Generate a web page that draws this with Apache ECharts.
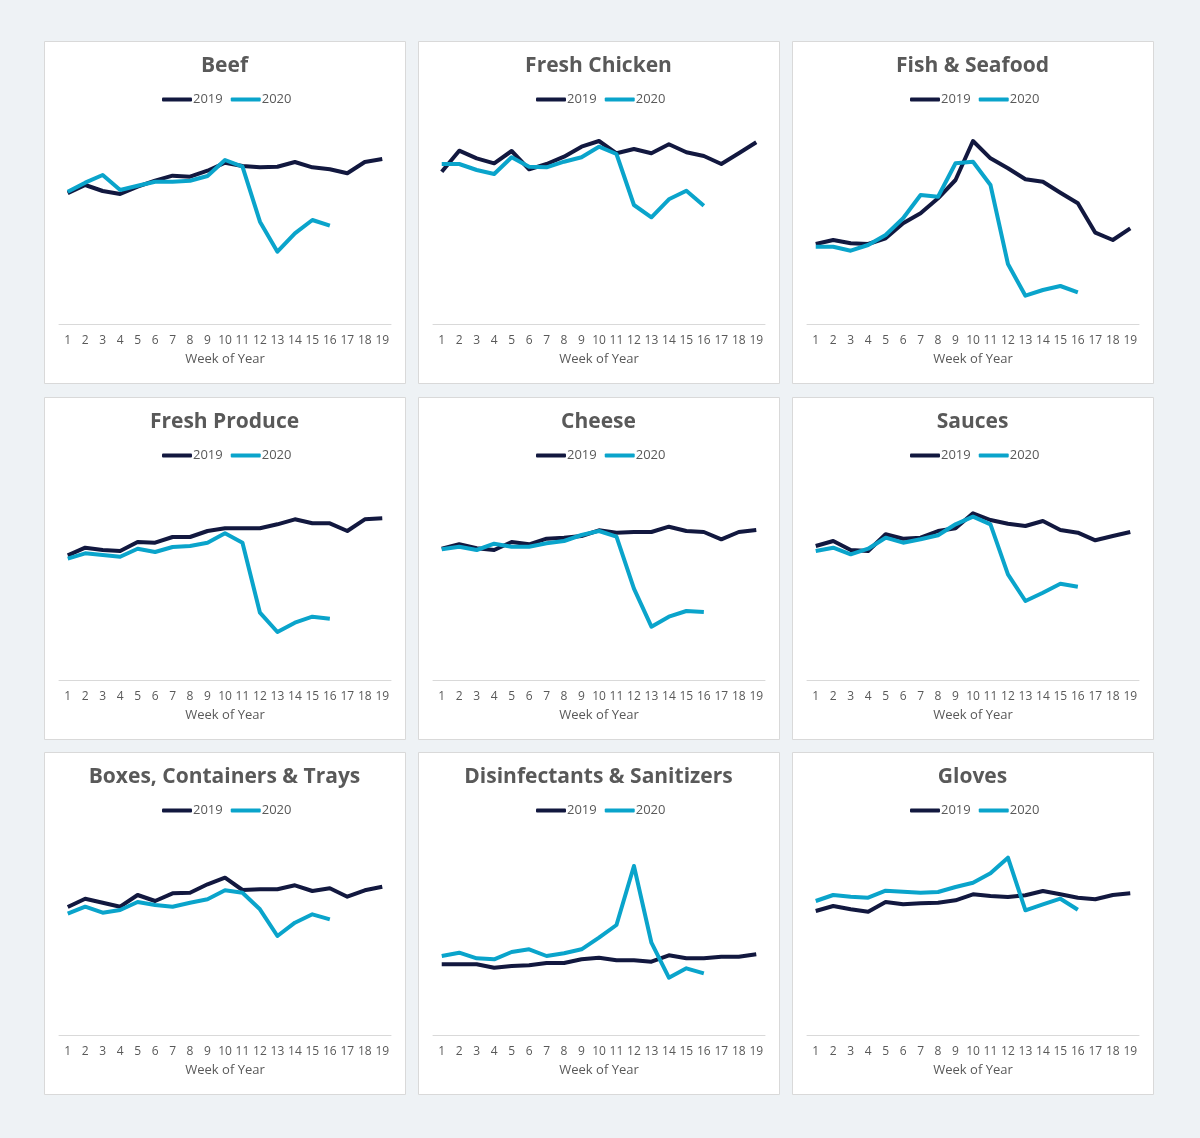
<!DOCTYPE html>
<html>
<head>
<meta charset="utf-8">
<script src="https://cdn.jsdelivr.net/npm/echarts@6/dist/echarts.min.js"></script>
<style>
html,body{margin:0;padding:0;background:#eef2f5;}
#chart{width:1200px;height:1138px;}
</style>
</head>
<body>
<div id="chart"></div>
<script>
// Week labels (x axis)
const weeks = ['1','2','3','4','5','6','7','8','9','10','11','12','13','14','15','16','17','18','19'];
const seriesNames = ['2019','2020'];

// Panel titles
const titles = ['Beef','Fresh Chicken','Fish & Seafood','Fresh Produce','Cheese','Sauces','Boxes, Containers & Trays','Disinfectants & Sanitizers','Gloves'];

// Values (relative units; no y scale is shown)
const beef2019 = [130.7,139,133,130,137.3,143.3,148.3,147.3,153.3,161.3,158,156.7,157.3,162,156.7,154.7,150.7,162,165];
const beef2020 = [132.3,141.3,149,134,138.3,142.3,142.3,143.3,148,164,157.3,102.3,72.3,90.7,104,98.3];

const chicken2019 = [152.3,173.3,165.7,160.7,173,154.7,160,167.3,177.3,183,170.7,175,170.7,179.7,171.7,168,160,170.7,181.7];
const chicken2020 = [160,160,154,150,166.7,157.3,156.7,162.3,166.7,177.3,170,119,106.7,124.7,133.3,118.3];

const fish2019 = [80,84,80.7,80,85.7,100.7,110.7,125.7,144,183,165.7,155.7,144.7,142.3,131.3,120.7,91.3,84,95.7];
const fish2020 = [77.3,77.3,73.3,79,89,105.7,129,127.3,160.7,162.3,139,60,28.3,34,38,31.7];

const produce2019 = [124.7,132.3,130,129,138,137.3,143,143,149,151.7,151.7,151.7,155.7,160.7,156.7,156.7,149,160.7,161.7];
const produce2020 = [121.3,126.7,125,123.3,131.3,128,133,134,137.3,146.7,137.3,67.3,48,57.3,63.3,61.3];

const cheese2019 = [131.3,135.7,131.7,130,138,135.7,141.3,142.3,144,149.7,147.3,148,148,153.3,149,148,140.7,148,150];
const cheese2020 = [130.7,133.3,130,136.3,133.3,133.3,136.7,139,145,149,143.3,91.3,53.3,63.3,69,68];

const sauces2019 = [134,139,130,129,145.7,141.3,142.3,149,151.7,166.7,160,156.3,154,159,150,147.3,139.7,144,148];
const sauces2020 = [129,132.3,125.7,131.3,142.3,137.3,140.7,144.7,155.7,163.3,155.7,105.7,79,87.3,96.3,93.3];

const boxes2019 = [128,136.3,132.3,128.3,140,134,141.7,142.3,150.7,157.3,145,145.7,145.7,149.7,144,146.7,138.3,144.7,148.3];
const boxes2020 = [121.3,128.3,122.3,125,133,130,128.3,132.3,135.7,144.7,142.3,125.7,99,112.3,120.7,115.7];

const disinf2019 = [70.7,70.7,70.7,67.3,69,69.7,72,72,75.7,77.3,74.7,74.7,73.3,79.7,76.7,76.7,78.3,78.3,80.7];
const disinf2020 = [79,82.3,76.7,75.7,83,85.7,79,81.7,85.7,97.3,110,169,92.3,57.3,66.7,61.7];

const gloves2019 = [124,129,125.7,123.3,133,130.7,131.7,132.3,134.7,140.7,139,138,139.7,144,140.7,137.3,135.7,140,141.7];
const gloves2020 = [134,140,138.3,137.3,144.3,143.3,142.3,143,148,152.3,161.7,177.3,124.7,130.7,136.3,125.3];

const data2019 = [beef2019,chicken2019,fish2019,produce2019,cheese2019,sauces2019,boxes2019,disinf2019,gloves2019];
const data2020 = [beef2020,chicken2020,fish2020,produce2020,cheese2020,sauces2020,boxes2020,disinf2020,gloves2020];

const C2019 = '#12183f';
const C2020 = '#0aa4cb';
const TXT = '#595959';
const FONT = '"Open Sans", "Noto Sans", sans-serif';

const panelW = 361, panelH = 342;
const panelLeft = [44, 418, 792];
const panelTop = [41, 397, 752];

const graphic = [], legend = [], grid = [], xAxis = [], yAxis = [], series = [];

titles.forEach((t, i) => {
  const c = i % 3, r = Math.floor(i / 3);
  const L = panelLeft[c], T = panelTop[r];
  graphic.push({
    type: 'rect', z: -10, silent: true,
    shape: {x: L + 0.5, y: T + 0.5, width: panelW, height: panelH},
    style: {fill: '#ffffff', stroke: '#d9d9d9', lineWidth: 1}
  });
  graphic.push({
    type: 'text', silent: true, z: 10,
    x: L + panelW / 2, y: T + 25,
    style: {
      text: t, fill: TXT, align: 'center', verticalAlign: 'middle',
      font: 'bold 21px "Open Sans", "Noto Sans", sans-serif'
    }
  });
  legend.push({
    data: seriesNames, left: L + 118, top: T + 52, padding: 0,
    orient: 'horizontal',
    icon: 'roundRect', itemWidth: 30, itemHeight: 4, itemGap: 8,
    textStyle: {fontFamily: FONT, fontSize: 13, color: TXT, padding: [0, 0, 0, -4]},
    selectedMode: false
  });
  grid.push({left: L + 15, top: T + 83, width: 332, height: 200, containLabel: false});
  xAxis.push({
    type: 'category', gridIndex: i, data: weeks, boundaryGap: true,
    axisLine: {lineStyle: {color: '#d9d9d9', width: 1}},
    axisTick: {show: false},
    axisLabel: {interval: 0, margin: 11, fontFamily: FONT, fontSize: 12, color: TXT},
    name: 'Week of Year', nameLocation: 'middle', nameGap: 29,
    nameTextStyle: {fontFamily: FONT, fontSize: 13, color: TXT}
  });
  yAxis.push({
    type: 'value', gridIndex: i, min: 0, max: 200,
    show: false, splitLine: {show: false}
  });
  series.push({
    name: '2019', type: 'line', xAxisIndex: i, yAxisIndex: i,
    data: data2019[i], symbol: 'none', z: 2,
    lineStyle: {color: C2019, width: 4, join: 'round'}, itemStyle: {color: C2019}
  });
  series.push({
    name: '2020', type: 'line', xAxisIndex: i, yAxisIndex: i,
    data: data2020[i], symbol: 'none', z: 3,
    lineStyle: {color: C2020, width: 4, join: 'round'}, itemStyle: {color: C2020}
  });
});

const chart = echarts.init(document.getElementById('chart'), null, {renderer: 'canvas'});
chart.setOption({
  backgroundColor: '#eef2f5',
  animation: false,
  graphic: graphic,
  legend: legend,
  grid: grid,
  xAxis: xAxis,
  yAxis: yAxis,
  series: series
});
</script>
</body>
</html>
